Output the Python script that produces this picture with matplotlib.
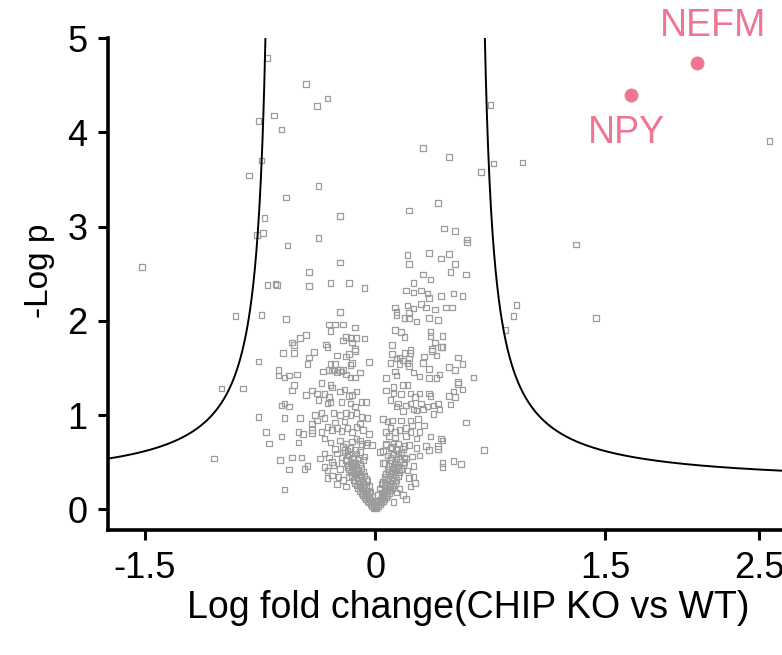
import matplotlib
matplotlib.use("Agg")
import matplotlib.pyplot as plt
import numpy as np

plt.rcParams['font.family'] = ['Liberation Sans', 'DejaVu Sans']

# ---------------- data ----------------
# highlighted genes
hl_names = ["NPY", "NEFM"]
hl_x = [1.67, 2.10]
hl_y = [4.39, 4.73]

# sparse / high points (log fold change, -log p)
sparse_pts = [
    (-0.70, 4.79), (-0.45, 4.51), (-0.31, 4.36), (-0.38, 4.28), (-0.66, 4.18),
    (-0.76, 4.12), (-0.61, 4.03), (-0.74, 3.70), (-0.82, 3.54), (-0.37, 3.43),
    (-0.58, 3.31), (-0.72, 3.09), (-0.23, 3.11), (-0.73, 2.93), (-0.77, 2.91),
    (-0.37, 2.88), (0.31, 3.83), (0.48, 3.74), (0.75, 4.29), (0.77, 3.67),
    (0.69, 3.58), (0.41, 3.25), (0.22, 3.17), (0.45, 2.98), (0.52, 2.95),
    (0.60, 2.86), (2.57, 3.91), (0.96, 3.68), (1.31, 2.81), (0.92, 2.17),
    (0.90, 2.05), (1.44, 2.03), (0.85, 1.90), (-1.52, 2.57), (-0.91, 2.05),
    (-1.00, 1.28), (-0.86, 1.28), (-1.05, 0.54),
]

# upper-left cluster
left_pts = [
    (-0.57, 2.80), (-0.23, 2.62), (-0.43, 2.52), (-0.70, 2.38), (-0.65, 2.39),
    (-0.64, 2.38), (-0.43, 2.37), (-0.29, 2.40), (-0.17, 2.40), (-0.07, 2.35),
    (-0.74, 2.06), (-0.58, 2.02), (-0.23, 2.09), (-0.30, 1.96), (-0.26, 1.96),
    (-0.21, 1.96), (-0.13, 1.93), (-0.29, 1.89), (-0.45, 1.85), (-0.49, 1.82),
    (-0.19, 1.83), (-0.16, 1.82), (-0.12, 1.82), (-0.07, 1.81), (-0.15, 1.77),
    (-0.21, 1.79), (-0.54, 1.77), (-0.53, 1.74), (-0.32, 1.75), (-0.31, 1.72),
    (-0.13, 1.70), (-0.13, 1.68), (-0.60, 1.66), (-0.53, 1.66), (-0.40, 1.67),
    (-0.25, 1.63), (-0.17, 1.65), (-0.19, 1.62), (-0.43, 1.61), (-0.04, 1.56),
    (-0.76, 1.57), (-0.44, 1.54), (-0.29, 1.54), (-0.26, 1.54), (-0.15, 1.55),
    (-0.16, 1.53), (-0.63, 1.48), (-0.30, 1.48), (-0.27, 1.48), (-0.23, 1.48),
    (-0.21, 1.48),
]

# upper-right cluster
right_pts = [
    (0.60, 2.83), (0.21, 2.70), (0.35, 2.72), (0.48, 2.71), (0.43, 2.66),
    (0.22, 2.60), (0.52, 2.60), (0.49, 2.52), (0.31, 2.49), (0.36, 2.44),
    (0.59, 2.49), (0.25, 2.40), (0.20, 2.32), (0.25, 2.30), (0.30, 2.32),
    (0.34, 2.29), (0.35, 2.24), (0.43, 2.26), (0.51, 2.29), (0.57, 2.26),
    (0.30, 2.18), (0.21, 2.16), (0.33, 2.14), (0.39, 2.12), (0.46, 2.14),
    (0.50, 2.14), (0.13, 2.14), (0.14, 2.09), (0.14, 2.06), (0.25, 2.13),
    (0.22, 2.08), (0.19, 2.03), (0.22, 2.03), (0.35, 2.03), (0.41, 2.01),
    (0.27, 1.99), (0.13, 1.90), (0.17, 1.88), (0.19, 1.83), (0.36, 1.88),
    (0.36, 1.84), (0.44, 1.84), (0.11, 1.74), (0.39, 1.77), (0.43, 1.72),
    (0.44, 1.72), (0.37, 1.70), (0.37, 1.68), (0.19, 1.66), (0.23, 1.69),
    (0.23, 1.66), (0.11, 1.65), (0.32, 1.62), (0.40, 1.63), (0.54, 1.61),
    (0.14, 1.60), (0.16, 1.61), (0.18, 1.58), (0.22, 1.60), (0.10, 1.55),
    (0.16, 1.54), (0.21, 1.55), (0.22, 1.52), (0.31, 1.55), (0.48, 1.51),
    (0.57, 1.54), (0.35, 1.49),
]

# middle band, left side
mid_left_pts = [
    (-0.63, 1.42), (-0.59, 1.40), (-0.56, 1.42), (-0.51, 1.43), (-0.34, 1.46),
    (-0.28, 1.47), (-0.25, 1.45), (-0.22, 1.46), (-0.19, 1.43), (-0.16, 1.40),
    (-0.13, 1.40), (-0.10, 1.45), (-0.53, 1.32), (-0.54, 1.26), (-0.35, 1.34),
    (-0.29, 1.32), (-0.28, 1.29), (-0.45, 1.21), (-0.41, 1.26), (-0.38, 1.23),
    (-0.37, 1.16), (-0.33, 1.22), (-0.30, 1.19), (-0.29, 1.14), (-0.31, 1.12),
    (-0.23, 1.25), (-0.20, 1.27), (-0.17, 1.20), (-0.15, 1.21), (-0.12, 1.25),
    (-0.22, 1.14), (-0.16, 1.12), (-0.13, 1.09), (-0.09, 1.14), (-0.06, 1.14),
    (-0.61, 1.10), (-0.59, 1.12), (-0.56, 1.09), (-0.76, 0.98), (-0.59, 0.97),
    (-0.49, 0.97), (-0.39, 1.00), (-0.35, 1.02), (-0.33, 0.97), (-0.27, 1.02),
    (-0.23, 1.00), (-0.19, 1.02), (-0.16, 1.00), (-0.12, 1.02), (-0.09, 0.98),
    (-0.05, 0.97), (-0.41, 0.91), (-0.38, 0.94), (-0.71, 0.82), (-0.61, 0.77),
    (-0.50, 0.82), (-0.47, 0.80), (-0.41, 0.84), (-0.41, 0.81), (-0.35, 0.82),
    (-0.31, 0.87), (-0.28, 0.84), (-0.25, 0.86), (-0.22, 0.83), (-0.18, 0.86),
    (-0.15, 0.82), (-0.12, 0.87), (-0.08, 0.84), (-0.04, 0.80), (-0.69, 0.70),
    (-0.50, 0.71), (-0.33, 0.75), (-0.29, 0.71), (-0.23, 0.73), (-0.19, 0.70),
    (-0.15, 0.72), (-0.12, 0.75), (-0.09, 0.69), (-0.05, 0.71), (-0.02, 0.68),
    (-0.62, 0.52), (-0.54, 0.55), (-0.48, 0.55), (-0.36, 0.54), (-0.33, 0.59),
    (-0.30, 0.55), (-0.25, 0.59), (-0.22, 0.55), (-0.18, 0.57), (-0.15, 0.54),
    (-0.12, 0.59), (-0.56, 0.42), (-0.46, 0.43), (-0.44, 0.46), (-0.33, 0.45),
    (-0.31, 0.41), (-0.27, 0.47), (-0.23, 0.43), (-0.18, 0.45), (-0.14, 0.41),
    (-0.31, 0.33), (-0.28, 0.36), (-0.24, 0.34), (-0.21, 0.31), (-0.17, 0.34),
    (-0.59, 0.21), (-0.26, 0.92), (-0.20, 0.93), (-0.10, 0.91), (-0.26, 0.64),
    (-0.20, 0.63), (-0.28, 0.50), (-0.22, 0.49), (-0.25, 0.27), (-0.19, 0.24),
]

# middle band, right side
mid_right_pts = [
    (0.07, 1.39), (0.13, 1.46), (0.14, 1.42), (0.25, 1.45), (0.29, 1.41),
    (0.35, 1.39), (0.40, 1.39), (0.42, 1.43), (0.52, 1.48), (0.64, 1.40),
    (0.18, 1.32), (0.21, 1.32), (0.54, 1.35), (0.54, 1.33), (0.12, 1.30),
    (0.07, 1.26), (0.12, 1.23), (0.17, 1.22), (0.23, 1.23), (0.26, 1.19),
    (0.29, 1.23), (0.35, 1.23), (0.36, 1.20), (0.51, 1.25), (0.48, 1.20),
    (0.52, 1.19), (0.57, 1.27), (0.10, 1.16), (0.14, 1.09), (0.15, 1.12),
    (0.20, 1.10), (0.23, 1.12), (0.25, 1.06), (0.30, 1.12), (0.31, 1.06),
    (0.34, 1.09), (0.38, 1.10), (0.41, 1.12), (0.42, 1.06), (0.49, 1.11),
    (0.18, 1.04), (0.27, 1.05), (0.38, 1.01), (0.05, 0.96), (0.11, 0.94),
    (0.17, 0.94), (0.23, 0.94), (0.28, 0.96), (0.32, 0.89), (0.59, 0.92),
    (0.07, 0.82), (0.10, 0.86), (0.13, 0.82), (0.16, 0.84), (0.20, 0.86),
    (0.23, 0.82), (0.29, 0.82), (0.36, 0.77), (0.43, 0.75), (0.44, 0.73),
    (0.27, 0.75), (0.07, 0.68), (0.11, 0.66), (0.15, 0.70), (0.18, 0.64),
    (0.22, 0.68), (0.27, 0.65), (0.33, 0.67), (0.35, 0.63), (0.41, 0.67),
    (0.41, 0.64), (0.71, 0.63), (0.03, 0.61), (0.10, 0.55), (0.15, 0.59),
    (0.20, 0.54), (0.24, 0.56), (0.29, 0.57), (0.44, 0.49), (0.44, 0.45),
    (0.51, 0.51), (0.56, 0.48), (0.05, 0.49), (0.12, 0.45), (0.17, 0.43),
    (0.21, 0.41), (0.22, 0.33), (0.25, 0.34), (0.26, 0.28), (0.23, 0.24),
    (0.10, 0.25), (0.16, 0.22), (0.14, 0.18), (0.18, 0.15), (0.20, 0.11),
    (0.12, 0.08), (0.08, 0.93), (0.13, 0.76), (0.20, 0.78), (0.24, 0.89),
    (0.19, 0.50), (0.25, 0.46),
]

# dense core near zero
core_pts = [
    (-0.01, 0.01), (0.01, 0.01), (0.00, 0.02), (-0.02, 0.03), (0.02, 0.03),
    (0.00, 0.04), (-0.03, 0.05), (0.03, 0.05), (-0.01, 0.06), (0.01, 0.06),
    (-0.04, 0.07), (0.04, 0.07), (-0.02, 0.08), (0.02, 0.08), (-0.05, 0.09),
    (0.05, 0.09), (0.00, 0.09), (-0.03, 0.10), (0.03, 0.10), (-0.06, 0.11),
    (0.06, 0.11), (-0.04, 0.12), (0.04, 0.12), (-0.07, 0.13), (0.07, 0.13),
    (-0.05, 0.14), (0.05, 0.14), (-0.08, 0.15), (0.08, 0.15), (-0.06, 0.16),
    (0.06, 0.16), (-0.09, 0.17), (0.09, 0.17), (-0.04, 0.17), (0.04, 0.18),
    (-0.07, 0.18), (0.07, 0.19), (-0.10, 0.19), (0.10, 0.20), (-0.05, 0.20),
    (-0.08, 0.21), (0.08, 0.21), (-0.11, 0.22), (0.11, 0.22), (-0.06, 0.23),
    (0.06, 0.23), (-0.09, 0.24), (0.09, 0.24), (-0.12, 0.25), (0.12, 0.25),
    (-0.07, 0.26), (0.07, 0.26), (-0.10, 0.27), (0.10, 0.27), (-0.13, 0.28),
    (0.13, 0.28), (-0.08, 0.29), (0.05, 0.29), (-0.11, 0.30), (0.11, 0.30),
    (-0.14, 0.31), (0.14, 0.31), (-0.06, 0.32), (0.08, 0.32), (-0.09, 0.33),
    (0.12, 0.33), (-0.12, 0.34), (0.06, 0.34), (-0.15, 0.35), (0.15, 0.35),
    (-0.07, 0.36), (0.10, 0.36), (-0.10, 0.37), (0.13, 0.37), (-0.13, 0.38),
    (0.07, 0.38), (-0.16, 0.39), (0.16, 0.39), (-0.08, 0.40), (0.11, 0.40),
    (-0.11, 0.41), (0.14, 0.41), (-0.14, 0.42), (0.08, 0.42), (-0.17, 0.43),
    (0.17, 0.43), (-0.09, 0.44), (0.12, 0.44), (-0.12, 0.45), (0.15, 0.45),
    (-0.15, 0.46), (0.09, 0.46), (-0.18, 0.47), (0.18, 0.47), (-0.10, 0.48),
    (0.13, 0.48), (-0.13, 0.49), (0.06, 0.49), (-0.16, 0.50), (0.16, 0.50),
    (-0.19, 0.52), (0.10, 0.52), (-0.11, 0.53), (0.14, 0.53), (-0.14, 0.55),
    (0.19, 0.55), (-0.07, 0.56), (0.08, 0.57), (-0.17, 0.58), (0.12, 0.58),
    (-0.20, 0.60), (0.17, 0.60), (-0.10, 0.61), (0.05, 0.62), (-0.13, 0.63),
    (0.14, 0.63), (-0.16, 0.65), (0.10, 0.65), (-0.21, 0.66), (0.19, 0.67),
    (-0.06, 0.68), (0.07, 0.69), (-0.02, 0.13), (0.02, 0.15), (-0.03, 0.19),
    (0.03, 0.22), (-0.04, 0.25), (0.04, 0.27), (-0.05, 0.30), (0.06, 0.31),
    (-0.11, 0.39), (0.09, 0.40), (-0.14, 0.48), (0.11, 0.49), (-0.08, 0.52),
    (0.15, 0.56), (-0.18, 0.62), (0.12, 0.70), (-0.10, 0.73), (0.09, 0.78),
]

# threshold curve parameters
curve_offset = 0.256
curve_scale = 0.3065
curve_x0 = 0.65

x_ticks = [-1.5, 0, 1.5, 2.5]
x_tick_labels = ["-1.5", "0", "1.5", "2.5"]
y_ticks = [0, 1, 2, 3, 4, 5]

# ---------------- plot ----------------
fig = plt.figure(figsize=(7.82, 6.55), dpi=100)
ax = fig.add_axes([108/782, (655-530)/655, (782-108)/782, (530-38)/655])
ax.set_xlim(-1.74, 2.65)
ax.set_ylim(-0.22, 5.0)

all_pts = sparse_pts + left_pts + right_pts + mid_left_pts + mid_right_pts + core_pts
gx = [p[0] for p in all_pts]
gy = [p[1] for p in all_pts]
ax.scatter(gx, gy, marker='s', s=16, facecolors='none', edgecolors='#9c9c9c',
           linewidths=0.9, zorder=2)

# threshold curves
xr = np.linspace(curve_x0 + curve_scale / (5.0 - curve_offset), 2.7, 600)
yr = curve_offset + curve_scale / (xr - curve_x0)
ax.plot(xr, yr, color='black', lw=1.4, zorder=3, clip_on=True)
ax.plot(-xr, yr, color='black', lw=1.4, zorder=3, clip_on=True)

pink = '#f07592'
ax.scatter(hl_x, hl_y, s=100, color=pink, zorder=4, edgecolors='none')
ax.text(hl_x[0] - 0.03, hl_y[0] - 0.40, hl_names[0], color=pink, fontsize=27,
        ha='center', va='center')
ax.text(hl_x[1] + 0.10, hl_y[1] + 0.40, hl_names[1], color=pink, fontsize=27,
        ha='center', va='center', clip_on=False)

for s in ['top', 'right']:
    ax.spines[s].set_visible(False)
for s in ['left', 'bottom']:
    ax.spines[s].set_linewidth(2.6)

ax.set_xticks(x_ticks)
ax.set_xticklabels(x_tick_labels)
ax.set_yticks(y_ticks)
ax.tick_params(axis='both', direction='out', length=7, width=2.2, labelsize=26,
               colors='black')
ax.tick_params(axis='x', pad=8)
ax.tick_params(axis='y', pad=8)

ax.set_ylabel("-Log p", fontsize=24)
ax.yaxis.set_label_coords(-0.078, 0.526)
fig.text(468/782, (655-608)/655, "Log fold change(CHIP KO vs WT)", fontsize=27,
         ha='center', va='center')

fig.savefig("out.png", dpi=100)
